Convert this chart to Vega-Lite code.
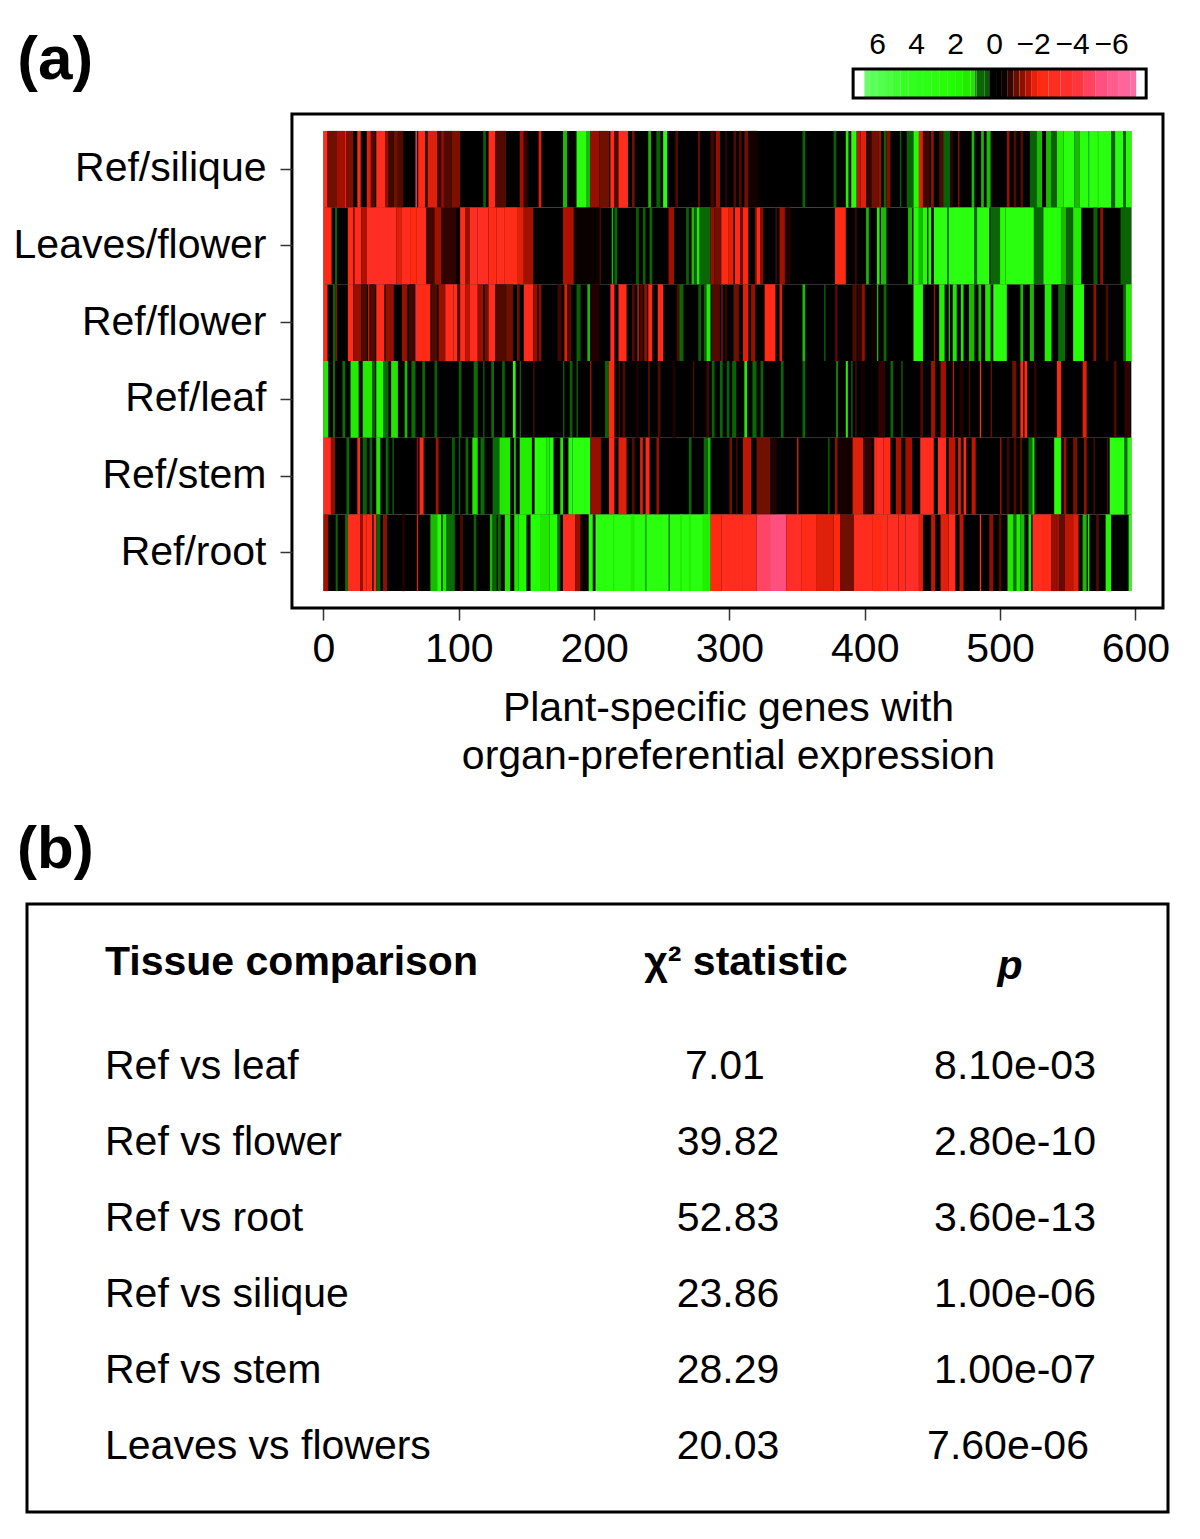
{"$schema":"https://vega.github.io/schema/vega-lite/v6.json","background":"white","padding":{"left":13,"top":28,"right":0,"bottom":0},"config":{"font":"Liberation Sans","view":{"stroke":null}},"spacing":42,"vconcat":[{"spacing":12,"vconcat":[{"width":1141,"height":29,"layer":[{"data":{"values":[{"v":7,"e":6.65,"s":7.23},{"v":6.6,"s":6.65,"e":6.4},{"v":6.2,"s":6.4,"e":6},{"v":5.8,"s":6,"e":5.6},{"v":5.4,"s":5.6,"e":5.2},{"v":5,"s":5.2,"e":4.8},{"v":4.6,"s":4.8,"e":4.4},{"v":4.2,"s":4.4,"e":4},{"v":3.8,"s":4,"e":3.6},{"v":3.4,"s":3.6,"e":3.2},{"v":3,"s":3.2,"e":2.8},{"v":2.6,"s":2.8,"e":2.4},{"v":2.2,"s":2.4,"e":2},{"v":1.8,"s":2,"e":1.6},{"v":1.4,"s":1.6,"e":1.2},{"v":1.1,"s":1.2,"e":1},{"v":0.95,"s":1,"e":0.9},{"v":0.7,"s":0.9,"e":0.5},{"v":0.35,"s":0.5,"e":0.25},{"v":0.1,"s":0.25,"e":-0.1},{"v":-0.25,"s":-0.1,"e":-0.4},{"v":-0.55,"s":-0.4,"e":-0.7},{"v":-0.85,"s":-0.7,"e":-1},{"v":-1.15,"s":-1,"e":-1.3},{"v":-1.45,"s":-1.3,"e":-1.6},{"v":-1.75,"s":-1.6,"e":-1.9},{"v":-2.05,"s":-1.9,"e":-2.2},{"v":-2.5,"s":-2.2,"e":-2.8},{"v":-3.1,"s":-2.8,"e":-3.4},{"v":-3.7,"s":-3.4,"e":-4},{"v":-4.3,"s":-4,"e":-4.6},{"v":-4.9,"s":-4.6,"e":-5.2},{"v":-5.5,"s":-5.2,"e":-5.8},{"v":-6.1,"s":-5.8,"e":-6.4},{"v":-6.7,"s":-6.4,"e":-7},{"v":-7.15,"s":-7,"e":-7.3},{"v":-7.6,"s":-7.3,"e":-7.8}]},"mark":{"type":"rect"},"encoding":{"x":{"field":"s","type":"quantitative","scale":{"domain":[49.6,-8.92],"nice":false,"zero":false},"axis":{"orient":"top","values":[6,4,2,0,-2,-4,-6],"domain":false,"ticks":false,"grid":false,"labelFontSize":30,"labelPadding":10,"labelColor":"#000","title":null,"format":"d","labelOverlap":false}},"x2":{"field":"e"},"color":{"field":"v","type":"quantitative","legend":null,"scale":{"domain":[-7.8,-7.31,-7.29,-5.5,-4,-2.2,-1.7,-1.2,-0.7,-0.4,0.15,0.3,0.9,1.05,2,4.5,6.6,6.65,7.3],"range":["#ffffff","#ffffff","#ff70a8","#ff5080","#ff3030","#ff2a10","#b01000","#701000","#200000","#000000","#000000","#0a5a05","#0a6e05","#22e000","#22ff00","#33ff22","#66ff66","#ffffff","#ffffff"],"interpolate":"rgb"}}}},{"data":{"values":[{"s":7.23,"e":-7.8}]},"mark":{"type":"rect","fill":null,"stroke":"#000","strokeWidth":3},"encoding":{"x":{"field":"s","type":"quantitative"},"x2":{"field":"e"}}},{"data":{"values":[{"label":"(a)","at":50.1}]},"mark":{"type":"text","font":"Liberation Sans","fontSize":62,"fontWeight":"bold","align":"left","baseline":"middle","dy":-24,"clip":false,"color":"#000"},"encoding":{"x":{"field":"at","type":"quantitative"},"text":{"field":"label"}}}]},{"width":1141,"height":494,"layer":[{"data":{"values":[
{"g":"Ref/silique","a":0,"b":597,"v":0},{"g":"Leaves/flower","a":0,"b":597,"v":0},{"g":"Ref/flower","a":0,"b":597,"v":0},{"g":"Ref/leaf","a":0,"b":597,"v":0},{"g":"Ref/stem","a":0,"b":597,"v":0},{"g":"Ref/root","a":0,"b":597,"v":0},
{"g":"Ref/silique","a":0,"b":3,"v":-3},{"g":"Ref/silique","a":3,"b":10,"v":-1.2},{"g":"Ref/silique","a":10,"b":16,"v":-1.6},{"g":"Ref/silique","a":16,"b":17,"v":-3},{"g":"Ref/silique","a":17,"b":22,"v":-1.3},{"g":"Ref/silique","a":25,"b":27.5,"v":-2.2},{"g":"Ref/silique","a":32,"b":35,"v":-2},{"g":"Ref/silique","a":35,"b":38,"v":-1},{"g":"Ref/silique","a":39,"b":45.5,"v":-3},{"g":"Ref/silique","a":45.5,"b":48,"v":-1.5},{"g":"Ref/silique","a":48,"b":52,"v":-0.9},{"g":"Ref/silique","a":52,"b":55,"v":-1.2},{"g":"Ref/silique","a":55,"b":59,"v":-1},{"g":"Ref/silique","a":68,"b":69,"v":-5},{"g":"Ref/silique","a":70,"b":75,"v":-2.5},{"g":"Ref/silique","a":75,"b":77,"v":-0.8},{"g":"Ref/silique","a":77,"b":84,"v":-2},{"g":"Ref/silique","a":84,"b":87,"v":-0.9},{"g":"Ref/silique","a":87,"b":89,"v":-1.5},{"g":"Ref/silique","a":89,"b":95,"v":-1},{"g":"Ref/silique","a":95,"b":101,"v":-1.3},{"g":"Ref/silique","a":118,"b":120,"v":0.5},{"g":"Ref/silique","a":122,"b":127,"v":-2.7},{"g":"Ref/silique","a":127,"b":135,"v":-1},{"g":"Ref/silique","a":145,"b":148,"v":-1.6},{"g":"Ref/silique","a":148,"b":151,"v":-0.8},{"g":"Ref/silique","a":159,"b":161,"v":-2},{"g":"Ref/silique","a":177,"b":180,"v":1},{"g":"Ref/silique","a":187,"b":194,"v":3},{"g":"Ref/silique","a":194,"b":197,"v":1},{"g":"Ref/silique","a":197,"b":204,"v":-1.5},{"g":"Ref/silique","a":204,"b":211,"v":-1.2},{"g":"Ref/silique","a":212,"b":215,"v":-2.5},{"g":"Ref/silique","a":215,"b":218,"v":-1},{"g":"Ref/silique","a":218,"b":225,"v":-3},{"g":"Ref/silique","a":228,"b":230,"v":-1.2},{"g":"Ref/silique","a":240,"b":242,"v":1},{"g":"Ref/silique","a":246,"b":249,"v":0.5},{"g":"Ref/silique","a":251,"b":254,"v":2.5},{"g":"Ref/silique","a":260,"b":262,"v":-1},{"g":"Ref/silique","a":277,"b":278,"v":-1.5},{"g":"Ref/silique","a":286,"b":289,"v":-0.9},{"g":"Ref/silique","a":290,"b":293,"v":-1.5},{"g":"Ref/silique","a":297,"b":298,"v":-0.9},{"g":"Ref/silique","a":303,"b":305,"v":-1},{"g":"Ref/silique","a":307,"b":309,"v":-1},{"g":"Ref/silique","a":311,"b":314,"v":-1.2},{"g":"Ref/silique","a":314,"b":321,"v":-0.6},{"g":"Ref/silique","a":354,"b":356,"v":0.6},{"g":"Ref/silique","a":377,"b":379,"v":0.5},{"g":"Ref/silique","a":386,"b":388,"v":1.5},{"g":"Ref/silique","a":390,"b":394,"v":2.5},{"g":"Ref/silique","a":394,"b":397,"v":-1.8},{"g":"Ref/silique","a":397,"b":401,"v":-2},{"g":"Ref/silique","a":401,"b":405,"v":-0.8},{"g":"Ref/silique","a":405,"b":410,"v":-1.2},{"g":"Ref/silique","a":410,"b":412,"v":-1.5},{"g":"Ref/silique","a":414,"b":416,"v":0.5},{"g":"Ref/silique","a":416,"b":419,"v":-1.3},{"g":"Ref/silique","a":426,"b":427,"v":0.5},{"g":"Ref/silique","a":431,"b":436,"v":0.5},{"g":"Ref/silique","a":436,"b":440,"v":2},{"g":"Ref/silique","a":440,"b":443,"v":-2},{"g":"Ref/silique","a":443,"b":448,"v":-0.9},{"g":"Ref/silique","a":449,"b":451,"v":-1.5},{"g":"Ref/silique","a":455,"b":458,"v":-1},{"g":"Ref/silique","a":458,"b":463,"v":0.5},{"g":"Ref/silique","a":463,"b":465,"v":-0.8},{"g":"Ref/silique","a":469,"b":470,"v":-1.5},{"g":"Ref/silique","a":479,"b":481,"v":1},{"g":"Ref/silique","a":486,"b":488,"v":1},{"g":"Ref/silique","a":490,"b":493,"v":1},{"g":"Ref/silique","a":505,"b":507,"v":-1.5},{"g":"Ref/silique","a":510,"b":512,"v":-1},{"g":"Ref/silique","a":515,"b":517,"v":-1},{"g":"Ref/silique","a":522,"b":527,"v":0.5},{"g":"Ref/silique","a":527,"b":531,"v":1},{"g":"Ref/silique","a":534,"b":538,"v":1},{"g":"Ref/silique","a":538,"b":542,"v":0.5},{"g":"Ref/silique","a":542,"b":547,"v":1.5},{"g":"Ref/silique","a":547,"b":555,"v":3},{"g":"Ref/silique","a":555,"b":559,"v":1},{"g":"Ref/silique","a":559,"b":582,"v":3},{"g":"Ref/silique","a":565,"b":566,"v":1},{"g":"Ref/silique","a":572,"b":573,"v":1.2},{"g":"Ref/silique","a":582,"b":585,"v":0.5},{"g":"Ref/silique","a":585,"b":591,"v":3},{"g":"Ref/silique","a":591,"b":593,"v":0.5},{"g":"Ref/silique","a":593,"b":597,"v":2},
{"g":"Leaves/flower","a":0,"b":6,"v":-2.3},{"g":"Leaves/flower","a":8.5,"b":10,"v":0.5},{"g":"Leaves/flower","a":18,"b":22,"v":-2.5},{"g":"Leaves/flower","a":22,"b":23,"v":-1.5},{"g":"Leaves/flower","a":23,"b":28,"v":-3},{"g":"Leaves/flower","a":28,"b":32,"v":-1.7},{"g":"Leaves/flower","a":32,"b":54,"v":-3.3},{"g":"Leaves/flower","a":54,"b":58,"v":-2},{"g":"Leaves/flower","a":58,"b":64,"v":-3},{"g":"Leaves/flower","a":64,"b":69,"v":-2.2},{"g":"Leaves/flower","a":69,"b":76,"v":-3},{"g":"Leaves/flower","a":77,"b":82,"v":-0.9},{"g":"Leaves/flower","a":82,"b":87,"v":-1.6},{"g":"Leaves/flower","a":87,"b":98,"v":-0.8},{"g":"Leaves/flower","a":98,"b":101,"v":-0.5},{"g":"Leaves/flower","a":101,"b":105,"v":-3},{"g":"Leaves/flower","a":105,"b":108,"v":-1.5},{"g":"Leaves/flower","a":108,"b":114,"v":-3.2},{"g":"Leaves/flower","a":114,"b":122,"v":-3.3},{"g":"Leaves/flower","a":122,"b":128,"v":-2.5},{"g":"Leaves/flower","a":128,"b":134,"v":-3},{"g":"Leaves/flower","a":134,"b":143,"v":-2.7},{"g":"Leaves/flower","a":143,"b":148,"v":-2},{"g":"Leaves/flower","a":148,"b":155,"v":-1.6},{"g":"Leaves/flower","a":177,"b":185,"v":-1.7},{"g":"Leaves/flower","a":185,"b":204,"v":-0.5},{"g":"Leaves/flower","a":204,"b":205,"v":-1},{"g":"Leaves/flower","a":213,"b":214,"v":1},{"g":"Leaves/flower","a":215,"b":217,"v":0.7},{"g":"Leaves/flower","a":231,"b":233,"v":0.5},{"g":"Leaves/flower","a":236,"b":238,"v":0.5},{"g":"Leaves/flower","a":241,"b":243,"v":0.7},{"g":"Leaves/flower","a":255,"b":259,"v":-1.6},{"g":"Leaves/flower","a":268,"b":270,"v":0.5},{"g":"Leaves/flower","a":272,"b":274,"v":1},{"g":"Leaves/flower","a":274,"b":276,"v":0.7},{"g":"Leaves/flower","a":276,"b":278,"v":1.5},{"g":"Leaves/flower","a":278,"b":286,"v":0.7},{"g":"Leaves/flower","a":286,"b":289,"v":-1.5},{"g":"Leaves/flower","a":289,"b":294,"v":-1.2},{"g":"Leaves/flower","a":294,"b":299,"v":-2.6},{"g":"Leaves/flower","a":299,"b":303,"v":-2},{"g":"Leaves/flower","a":304,"b":308,"v":-2.2},{"g":"Leaves/flower","a":308,"b":310,"v":-1.2},{"g":"Leaves/flower","a":310,"b":314,"v":-2.2},{"g":"Leaves/flower","a":319,"b":320,"v":-1.5},{"g":"Leaves/flower","a":320,"b":323,"v":-2.5},{"g":"Leaves/flower","a":323,"b":325,"v":-1.3},{"g":"Leaves/flower","a":334,"b":335,"v":-1},{"g":"Leaves/flower","a":337,"b":341,"v":-1.6},{"g":"Leaves/flower","a":341,"b":345,"v":-0.7},{"g":"Leaves/flower","a":378,"b":386,"v":-2.5},{"g":"Leaves/flower","a":393,"b":394,"v":-1},{"g":"Leaves/flower","a":401,"b":403,"v":1},{"g":"Leaves/flower","a":409,"b":411,"v":1.5},{"g":"Leaves/flower","a":412,"b":416,"v":1},{"g":"Leaves/flower","a":432,"b":435,"v":1},{"g":"Leaves/flower","a":436,"b":440,"v":2},{"g":"Leaves/flower","a":440,"b":443,"v":1},{"g":"Leaves/flower","a":443,"b":446,"v":2},{"g":"Leaves/flower","a":447,"b":449,"v":2},{"g":"Leaves/flower","a":451,"b":461,"v":3},{"g":"Leaves/flower","a":461,"b":462,"v":0.9},{"g":"Leaves/flower","a":462,"b":481,"v":3},{"g":"Leaves/flower","a":481,"b":483,"v":0.9},{"g":"Leaves/flower","a":483,"b":492,"v":3},{"g":"Leaves/flower","a":493,"b":500,"v":0.7},{"g":"Leaves/flower","a":500,"b":504,"v":2.5},{"g":"Leaves/flower","a":504,"b":525,"v":3},{"g":"Leaves/flower","a":525,"b":532,"v":0.6},{"g":"Leaves/flower","a":532,"b":545,"v":2.5},{"g":"Leaves/flower","a":545,"b":549,"v":1},{"g":"Leaves/flower","a":549,"b":554,"v":0.6},{"g":"Leaves/flower","a":554,"b":560,"v":1.5},{"g":"Leaves/flower","a":569,"b":572,"v":0.5},{"g":"Leaves/flower","a":574,"b":576,"v":-1.5},{"g":"Leaves/flower","a":589,"b":597,"v":0.6},
{"g":"Ref/flower","a":0,"b":3,"v":-2.5},{"g":"Ref/flower","a":7,"b":9,"v":0.5},{"g":"Ref/flower","a":9,"b":10,"v":-1.5},{"g":"Ref/flower","a":18,"b":22,"v":-2.8},{"g":"Ref/flower","a":22,"b":28,"v":-1.5},{"g":"Ref/flower","a":28,"b":32,"v":-1},{"g":"Ref/flower","a":33,"b":34,"v":-2},{"g":"Ref/flower","a":34,"b":38,"v":-1},{"g":"Ref/flower","a":39,"b":45,"v":-2.7},{"g":"Ref/flower","a":46,"b":52,"v":-1.5},{"g":"Ref/flower","a":58,"b":62,"v":-1.5},{"g":"Ref/flower","a":63,"b":68,"v":-0.9},{"g":"Ref/flower","a":68,"b":69,"v":-5},{"g":"Ref/flower","a":69,"b":79,"v":-2.5},{"g":"Ref/flower","a":80,"b":84,"v":-1},{"g":"Ref/flower","a":85,"b":90,"v":-1.5},{"g":"Ref/flower","a":90,"b":96,"v":-2.8},{"g":"Ref/flower","a":96,"b":99,"v":-3},{"g":"Ref/flower","a":99,"b":101,"v":-1},{"g":"Ref/flower","a":101,"b":105,"v":-2.8},{"g":"Ref/flower","a":105,"b":108,"v":-1.8},{"g":"Ref/flower","a":108,"b":114,"v":-3},{"g":"Ref/flower","a":114,"b":118,"v":-1.5},{"g":"Ref/flower","a":119,"b":122,"v":-1.2},{"g":"Ref/flower","a":122,"b":127,"v":-3},{"g":"Ref/flower","a":127,"b":135,"v":-1},{"g":"Ref/flower","a":135,"b":140,"v":-1.2},{"g":"Ref/flower","a":143,"b":145,"v":-1.2},{"g":"Ref/flower","a":148,"b":155,"v":-2.8},{"g":"Ref/flower","a":155,"b":158,"v":-1.5},{"g":"Ref/flower","a":159,"b":161,"v":-1.4},{"g":"Ref/flower","a":173,"b":176,"v":-0.9},{"g":"Ref/flower","a":178,"b":180,"v":-2},{"g":"Ref/flower","a":180,"b":183,"v":-1},{"g":"Ref/flower","a":187,"b":190,"v":0.5},{"g":"Ref/flower","a":195,"b":197,"v":1},{"g":"Ref/flower","a":197,"b":204,"v":-0.7},{"g":"Ref/flower","a":212,"b":215,"v":-3.5},{"g":"Ref/flower","a":218,"b":224,"v":-2.8},{"g":"Ref/flower","a":228,"b":230,"v":-1},{"g":"Ref/flower","a":232,"b":233,"v":-2},{"g":"Ref/flower","a":234,"b":236,"v":-1},{"g":"Ref/flower","a":237,"b":239,"v":-1.5},{"g":"Ref/flower","a":240,"b":243,"v":-2.5},{"g":"Ref/flower","a":247,"b":251,"v":-2.5},{"g":"Ref/flower","a":261,"b":263,"v":-1},{"g":"Ref/flower","a":263,"b":266,"v":0.7},{"g":"Ref/flower","a":277,"b":279,"v":0.5},{"g":"Ref/flower","a":281,"b":283,"v":0.6},{"g":"Ref/flower","a":283,"b":286,"v":1.5},{"g":"Ref/flower","a":287,"b":293,"v":-1},{"g":"Ref/flower","a":294,"b":295,"v":-1.5},{"g":"Ref/flower","a":297,"b":298,"v":-1},{"g":"Ref/flower","a":303,"b":307,"v":-1.2},{"g":"Ref/flower","a":310,"b":314,"v":-2},{"g":"Ref/flower","a":316,"b":319,"v":-1.5},{"g":"Ref/flower","a":326,"b":334,"v":-2.5},{"g":"Ref/flower","a":337,"b":339,"v":-2},{"g":"Ref/flower","a":354,"b":356,"v":1},{"g":"Ref/flower","a":370,"b":371,"v":0.7},{"g":"Ref/flower","a":378,"b":380,"v":-1},{"g":"Ref/flower","a":391,"b":394,"v":-1},{"g":"Ref/flower","a":395,"b":398,"v":-0.8},{"g":"Ref/flower","a":398,"b":400,"v":-1.5},{"g":"Ref/flower","a":405,"b":408,"v":-0.6},{"g":"Ref/flower","a":409,"b":410,"v":1},{"g":"Ref/flower","a":414,"b":416,"v":0.8},{"g":"Ref/flower","a":436,"b":443,"v":3},{"g":"Ref/flower","a":451,"b":452,"v":-1.5},{"g":"Ref/flower","a":455,"b":459,"v":1.5},{"g":"Ref/flower","a":462,"b":463,"v":1},{"g":"Ref/flower","a":465,"b":468,"v":1.2},{"g":"Ref/flower","a":471,"b":473,"v":1.2},{"g":"Ref/flower","a":477,"b":481,"v":1},{"g":"Ref/flower","a":484,"b":486,"v":1},{"g":"Ref/flower","a":489,"b":493,"v":1.2},{"g":"Ref/flower","a":495,"b":505,"v":3},{"g":"Ref/flower","a":515,"b":517,"v":1},{"g":"Ref/flower","a":522,"b":525,"v":1},{"g":"Ref/flower","a":533,"b":538,"v":1.5},{"g":"Ref/flower","a":543,"b":548,"v":0.8},{"g":"Ref/flower","a":554,"b":562,"v":2.5},{"g":"Ref/flower","a":569,"b":571,"v":-1.5},{"g":"Ref/flower","a":578,"b":580,"v":-1},{"g":"Ref/flower","a":591,"b":593,"v":0.6},{"g":"Ref/flower","a":593,"b":597,"v":1.5},
{"g":"Ref/leaf","a":0,"b":3.5,"v":1.3},{"g":"Ref/leaf","a":7,"b":8.5,"v":0.8},{"g":"Ref/leaf","a":14,"b":16,"v":0.9},{"g":"Ref/leaf","a":20,"b":26,"v":1.4},{"g":"Ref/leaf","a":29,"b":36,"v":1.4},{"g":"Ref/leaf","a":36,"b":38,"v":0.6},{"g":"Ref/leaf","a":39,"b":44,"v":2.2},{"g":"Ref/leaf","a":44,"b":48,"v":0.8},{"g":"Ref/leaf","a":50,"b":55,"v":1.2},{"g":"Ref/leaf","a":60,"b":62,"v":1},{"g":"Ref/leaf","a":65,"b":68,"v":0.9},{"g":"Ref/leaf","a":73,"b":75,"v":0.7},{"g":"Ref/leaf","a":82,"b":84,"v":0.5},{"g":"Ref/leaf","a":100,"b":102,"v":0.5},{"g":"Ref/leaf","a":111,"b":114,"v":0.9},{"g":"Ref/leaf","a":118,"b":119,"v":0.5},{"g":"Ref/leaf","a":124,"b":126,"v":0.9},{"g":"Ref/leaf","a":132,"b":134,"v":0.5},{"g":"Ref/leaf","a":140,"b":142,"v":2},{"g":"Ref/leaf","a":145,"b":146,"v":0.5},{"g":"Ref/leaf","a":155,"b":156,"v":-1},{"g":"Ref/leaf","a":177,"b":178,"v":0.5},{"g":"Ref/leaf","a":182,"b":184,"v":0.5},{"g":"Ref/leaf","a":187,"b":188,"v":0.6},{"g":"Ref/leaf","a":197,"b":198,"v":-1.6},{"g":"Ref/leaf","a":208,"b":211,"v":0.5},{"g":"Ref/leaf","a":211,"b":215,"v":-2.2},{"g":"Ref/leaf","a":218,"b":219,"v":-1},{"g":"Ref/leaf","a":221,"b":223,"v":-1},{"g":"Ref/leaf","a":231,"b":233,"v":-0.7},{"g":"Ref/leaf","a":240,"b":241,"v":-1.2},{"g":"Ref/leaf","a":247,"b":249,"v":-1},{"g":"Ref/leaf","a":258,"b":260,"v":-0.7},{"g":"Ref/leaf","a":273,"b":274,"v":-1},{"g":"Ref/leaf","a":283,"b":285,"v":-0.9},{"g":"Ref/leaf","a":287,"b":289,"v":0.6},{"g":"Ref/leaf","a":293,"b":295,"v":0.7},{"g":"Ref/leaf","a":298,"b":300,"v":0.5},{"g":"Ref/leaf","a":302,"b":305,"v":0.6},{"g":"Ref/leaf","a":311,"b":313,"v":1.3},{"g":"Ref/leaf","a":317,"b":320,"v":0.8},{"g":"Ref/leaf","a":323,"b":325,"v":0.6},{"g":"Ref/leaf","a":338,"b":340,"v":0.7},{"g":"Ref/leaf","a":354,"b":356,"v":0.7},{"g":"Ref/leaf","a":379,"b":380,"v":1},{"g":"Ref/leaf","a":386,"b":387.5,"v":1.6},{"g":"Ref/leaf","a":390,"b":391,"v":0.8},{"g":"Ref/leaf","a":393,"b":394,"v":-1},{"g":"Ref/leaf","a":397,"b":400,"v":-0.6},{"g":"Ref/leaf","a":410,"b":415,"v":-0.8},{"g":"Ref/leaf","a":419,"b":421,"v":0.6},{"g":"Ref/leaf","a":427,"b":428,"v":0.6},{"g":"Ref/leaf","a":441,"b":443,"v":-1},{"g":"Ref/leaf","a":449,"b":452,"v":-1.6},{"g":"Ref/leaf","a":456,"b":460,"v":-1.6},{"g":"Ref/leaf","a":465,"b":466,"v":-1.8},{"g":"Ref/leaf","a":470,"b":473,"v":-0.7},{"g":"Ref/leaf","a":477,"b":478,"v":-1},{"g":"Ref/leaf","a":485,"b":486,"v":-2.5},{"g":"Ref/leaf","a":493,"b":494,"v":-1.2},{"g":"Ref/leaf","a":509,"b":512,"v":-1.2},{"g":"Ref/leaf","a":515,"b":517,"v":-2.2},{"g":"Ref/leaf","a":518,"b":520,"v":-2.5},{"g":"Ref/leaf","a":525,"b":527,"v":-0.8},{"g":"Ref/leaf","a":542,"b":545,"v":-2.2},{"g":"Ref/leaf","a":561,"b":564,"v":-2},{"g":"Ref/leaf","a":584,"b":586,"v":-1},{"g":"Ref/leaf","a":592,"b":596,"v":-0.8},
{"g":"Ref/stem","a":0,"b":5.5,"v":-3},{"g":"Ref/stem","a":5.5,"b":8.5,"v":-1.4},{"g":"Ref/stem","a":17,"b":19,"v":0.8},{"g":"Ref/stem","a":25,"b":27,"v":-2.5},{"g":"Ref/stem","a":29,"b":32,"v":0.5},{"g":"Ref/stem","a":34,"b":36,"v":0.5},{"g":"Ref/stem","a":39,"b":42,"v":1.2},{"g":"Ref/stem","a":46,"b":48,"v":0.7},{"g":"Ref/stem","a":51,"b":52,"v":0.7},{"g":"Ref/stem","a":69,"b":70,"v":-1.5},{"g":"Ref/stem","a":71,"b":74,"v":-2.6},{"g":"Ref/stem","a":83,"b":85,"v":-1.7},{"g":"Ref/stem","a":95,"b":97,"v":0.5},{"g":"Ref/stem","a":100,"b":101,"v":0.5},{"g":"Ref/stem","a":105,"b":107,"v":0.7},{"g":"Ref/stem","a":110,"b":114,"v":1.2},{"g":"Ref/stem","a":116,"b":119,"v":0.8},{"g":"Ref/stem","a":125,"b":130,"v":0.8},{"g":"Ref/stem","a":130,"b":138,"v":1.3},{"g":"Ref/stem","a":141,"b":142,"v":2},{"g":"Ref/stem","a":145,"b":154,"v":1.5},{"g":"Ref/stem","a":156,"b":165,"v":2.5},{"g":"Ref/stem","a":165,"b":167,"v":1.5},{"g":"Ref/stem","a":167,"b":170,"v":2.5},{"g":"Ref/stem","a":175,"b":177,"v":1.2},{"g":"Ref/stem","a":181,"b":184,"v":2.5},{"g":"Ref/stem","a":184,"b":197,"v":3},{"g":"Ref/stem","a":197,"b":205,"v":-1.5},{"g":"Ref/stem","a":211,"b":215,"v":-3},{"g":"Ref/stem","a":218,"b":224,"v":-2},{"g":"Ref/stem","a":228,"b":230,"v":-1},{"g":"Ref/stem","a":234,"b":236,"v":-2},{"g":"Ref/stem","a":238,"b":241,"v":-2.5},{"g":"Ref/stem","a":246,"b":248,"v":-1.5},{"g":"Ref/stem","a":270,"b":272,"v":0.6},{"g":"Ref/stem","a":281,"b":284,"v":0.7},{"g":"Ref/stem","a":284,"b":286,"v":1},{"g":"Ref/stem","a":300,"b":302,"v":-1.2},{"g":"Ref/stem","a":305,"b":306,"v":-1},{"g":"Ref/stem","a":310,"b":316,"v":-1.8},{"g":"Ref/stem","a":320,"b":330,"v":-1.2},{"g":"Ref/stem","a":330,"b":335,"v":-0.7},{"g":"Ref/stem","a":350,"b":351,"v":-2},{"g":"Ref/stem","a":373,"b":374,"v":0.8},{"g":"Ref/stem","a":378,"b":380,"v":-1.5},{"g":"Ref/stem","a":380,"b":390,"v":-0.6},{"g":"Ref/stem","a":391,"b":399,"v":-2},{"g":"Ref/stem","a":399,"b":405,"v":-0.8},{"g":"Ref/stem","a":407,"b":409,"v":-3},{"g":"Ref/stem","a":409,"b":414,"v":-3.4},{"g":"Ref/stem","a":414,"b":419,"v":-2.6},{"g":"Ref/stem","a":423,"b":427,"v":-1.7},{"g":"Ref/stem","a":430,"b":435,"v":-1.6},{"g":"Ref/stem","a":441,"b":451,"v":-3},{"g":"Ref/stem","a":454,"b":460,"v":-3.3},{"g":"Ref/stem","a":462,"b":467,"v":-1.8},{"g":"Ref/stem","a":469,"b":471,"v":-2},{"g":"Ref/stem","a":473,"b":475,"v":-2.2},{"g":"Ref/stem","a":479,"b":482,"v":-1.8},{"g":"Ref/stem","a":500,"b":501,"v":-1.7},{"g":"Ref/stem","a":505,"b":507,"v":-0.9},{"g":"Ref/stem","a":510,"b":512,"v":-1},{"g":"Ref/stem","a":515,"b":516,"v":-1.4},{"g":"Ref/stem","a":521,"b":526,"v":0.8},{"g":"Ref/stem","a":524,"b":525,"v":1.5},{"g":"Ref/stem","a":540,"b":545,"v":2.5},{"g":"Ref/stem","a":547,"b":549,"v":-1.6},{"g":"Ref/stem","a":554,"b":557,"v":-1.3},{"g":"Ref/stem","a":562,"b":564,"v":-1.5},{"g":"Ref/stem","a":569,"b":570,"v":-1},{"g":"Ref/stem","a":579,"b":580,"v":-1},{"g":"Ref/stem","a":581,"b":592,"v":3},{"g":"Ref/stem","a":592,"b":594,"v":0.7},{"g":"Ref/stem","a":594,"b":597,"v":2.5},
{"g":"Ref/root","a":0,"b":3.5,"v":-1.6},{"g":"Ref/root","a":9,"b":10.5,"v":0.7},{"g":"Ref/root","a":16,"b":18,"v":0.9},{"g":"Ref/root","a":18,"b":27,"v":-3},{"g":"Ref/root","a":27,"b":29,"v":-1.5},{"g":"Ref/root","a":29,"b":32,"v":-2.5},{"g":"Ref/root","a":32,"b":36,"v":-2.5},{"g":"Ref/root","a":37,"b":39,"v":-2.5},{"g":"Ref/root","a":39,"b":42,"v":0.5},{"g":"Ref/root","a":44,"b":47,"v":-1.4},{"g":"Ref/root","a":58,"b":60,"v":-0.7},{"g":"Ref/root","a":69,"b":70,"v":-2},{"g":"Ref/root","a":79,"b":84,"v":1},{"g":"Ref/root","a":84,"b":87,"v":2},{"g":"Ref/root","a":88,"b":91,"v":1.2},{"g":"Ref/root","a":91,"b":97,"v":0.9},{"g":"Ref/root","a":101,"b":103,"v":-1},{"g":"Ref/root","a":111,"b":113,"v":0.5},{"g":"Ref/root","a":123,"b":125,"v":1},{"g":"Ref/root","a":125,"b":128,"v":0.5},{"g":"Ref/root","a":129,"b":131,"v":0.8},{"g":"Ref/root","a":134,"b":138,"v":1.2},{"g":"Ref/root","a":141,"b":144,"v":1.2},{"g":"Ref/root","a":144,"b":150,"v":1.8},{"g":"Ref/root","a":153,"b":160,"v":2.3},{"g":"Ref/root","a":160,"b":167,"v":1.2},{"g":"Ref/root","a":167,"b":173,"v":2},{"g":"Ref/root","a":173,"b":175,"v":0.7},{"g":"Ref/root","a":177,"b":186,"v":-3},{"g":"Ref/root","a":186,"b":190,"v":-1.5},{"g":"Ref/root","a":190,"b":196,"v":-0.5},{"g":"Ref/root","a":196,"b":199,"v":2},{"g":"Ref/root","a":201,"b":286,"v":3},{"g":"Ref/root","a":214,"b":215,"v":1.5},{"g":"Ref/root","a":227,"b":230,"v":1.5},{"g":"Ref/root","a":237.5,"b":239,"v":1},{"g":"Ref/root","a":255,"b":256,"v":0.9},{"g":"Ref/root","a":263.5,"b":265,"v":1.5},{"g":"Ref/root","a":270,"b":271.5,"v":1.5},{"g":"Ref/root","a":280,"b":286,"v":1.5},{"g":"Ref/root","a":286,"b":294,"v":-2.2},{"g":"Ref/root","a":294,"b":310,"v":-3},{"g":"Ref/root","a":310,"b":320,"v":-3},{"g":"Ref/root","a":320,"b":330,"v":-5},{"g":"Ref/root","a":330,"b":342,"v":-5.5},{"g":"Ref/root","a":342,"b":353,"v":-3.5},{"g":"Ref/root","a":353,"b":364,"v":-2.6},{"g":"Ref/root","a":364,"b":377,"v":-2},{"g":"Ref/root","a":377,"b":382,"v":-2.2},{"g":"Ref/root","a":382,"b":392,"v":-1.2},{"g":"Ref/root","a":392,"b":406,"v":-3},{"g":"Ref/root","a":406,"b":412,"v":-2.5},{"g":"Ref/root","a":412,"b":417,"v":-3},{"g":"Ref/root","a":417,"b":425,"v":-3.2},{"g":"Ref/root","a":425,"b":430,"v":-3},{"g":"Ref/root","a":430,"b":440,"v":-3.5},{"g":"Ref/root","a":440,"b":443,"v":-2},{"g":"Ref/root","a":449,"b":452,"v":-1.8},{"g":"Ref/root","a":456,"b":462,"v":-2},{"g":"Ref/root","a":462,"b":467,"v":-3},{"g":"Ref/root","a":470,"b":473,"v":-1.8},{"g":"Ref/root","a":485,"b":486,"v":-3.5},{"g":"Ref/root","a":492,"b":495,"v":-1.4},{"g":"Ref/root","a":499,"b":501,"v":-1},{"g":"Ref/root","a":505.5,"b":510,"v":1.3},{"g":"Ref/root","a":510,"b":512,"v":0.9},{"g":"Ref/root","a":512,"b":515,"v":1.5},{"g":"Ref/root","a":515,"b":518,"v":1},{"g":"Ref/root","a":521,"b":523,"v":1.3},{"g":"Ref/root","a":524,"b":531,"v":-3},{"g":"Ref/root","a":531,"b":538,"v":-2.4},{"g":"Ref/root","a":538,"b":542,"v":-1.5},{"g":"Ref/root","a":542,"b":544,"v":-1.6},{"g":"Ref/root","a":544,"b":548,"v":-1.1},{"g":"Ref/root","a":548,"b":554,"v":-1.8},{"g":"Ref/root","a":554,"b":558,"v":-2},{"g":"Ref/root","a":561,"b":564,"v":1},{"g":"Ref/root","a":565,"b":566,"v":1.3},{"g":"Ref/root","a":571,"b":573,"v":-1},{"g":"Ref/root","a":578,"b":582,"v":1.8},{"g":"Ref/root","a":595,"b":597,"v":2.5}
]},"mark":{"type":"rect"},"encoding":{"x":{"field":"a","type":"quantitative","scale":{"domain":[-219.1,624.1],"nice":false,"zero":false},"axis":{"values":[0,100,200,300,400,500,600],"grid":false,"domain":false,"tickSize":12,"tickColor":"#333","tickWidth":1.5,"labelFontSize":41,"labelColor":"#000","labelPadding":9,"labelFlush":false,"titleFontSize":41,"titleFontWeight":"normal","titleColor":"#000","titlePadding":19,"titleLineHeight":48,"titleX":701,"title":["Plant-specific genes with","organ-preferential expression"]}},"x2":{"field":"b"},"y":{"field":"g","type":"nominal","scale":{"domain":["Ref/silique","Leaves/flower","Ref/flower","Ref/leaf","Ref/stem","Ref/root"],"paddingInner":0,"paddingOuter":0.22},"axis":{"title":null,"grid":false,"domain":false,"offset":-265,"tickSize":12,"tickColor":"#333","tickWidth":1.5,"labelFontSize":41,"labelColor":"#000","labelPadding":14,"labelLimit":400}},"color":{"field":"v","type":"quantitative","legend":null,"scale":{"domain":[-7.8,-7.31,-7.29,-5.5,-4,-2.2,-1.7,-1.2,-0.7,-0.4,0.15,0.3,0.9,1.05,2,4.5,6.6,6.65,7.3],"range":["#ffffff","#ffffff","#ff70a8","#ff5080","#ff3030","#ff2a10","#b01000","#701000","#200000","#000000","#000000","#0a5a05","#0a6e05","#22e000","#22ff00","#33ff22","#66ff66","#ffffff","#ffffff"],"interpolate":"rgb"}}}},{"data":{"values":[{"a":-23.3,"b":620.4}]},"mark":{"type":"rect","fill":null,"stroke":"#000","strokeWidth":3},"encoding":{"x":{"field":"a","type":"quantitative"},"x2":{"field":"b"}}}]}]},{"width":1141,"height":608,"view":{"stroke":"#000","strokeWidth":3},"title":{"text":"(b)","anchor":"start","dx":-10,"fontSize":60,"fontWeight":"bold","color":"#000","font":"Liberation Sans","offset":23},"data":{"values":[{"comparison":"Tissue comparison","chi":"χ² statistic","p":"p","part":"head"},{"comparison":"Ref vs leaf","chi":"7.01","p":"8.10e-03","part":"shift"},{"comparison":"Ref vs flower","chi":"39.82","p":"2.80e-10","part":"body"},{"comparison":"Ref vs root","chi":"52.83","p":"3.60e-13","part":"body"},{"comparison":"Ref vs silique","chi":"23.86","p":"1.00e-06","part":"body"},{"comparison":"Ref vs stem","chi":"28.29","p":"1.00e-07","part":"body"},{"comparison":"Leaves vs flowers","chi":"20.03","p":"7.60e-06","part":"last"}]},"encoding":{"y":{"field":"comparison","type":"nominal","sort":null,"scale":{"type":"point","padding":0,"domain":["Tissue comparison","Ref vs leaf","Ref vs flower","Ref vs root","Ref vs silique","Ref vs stem","Leaves vs flowers"],"range":[87,543]},"axis":null},"x":{"datum":"a","type":"nominal","scale":{"type":"point","domain":["a","b","c"],"padding":0},"axis":null}},"layer":[{"transform":[{"filter":"datum.part!='head'"}],"mark":{"type":"text","align":"left","baseline":"middle","fontSize":41,"dx":78,"color":"#000"},"encoding":{"x":{"datum":"a","type":"nominal"},"text":{"field":"comparison"}}},{"transform":[{"filter":"datum.part=='body'||datum.part=='last'"}],"mark":{"type":"text","align":"center","baseline":"middle","fontSize":41,"dx":130.5,"color":"#000"},"encoding":{"x":{"datum":"b","type":"nominal"},"text":{"field":"chi"}}},{"transform":[{"filter":"datum.part=='shift'"}],"mark":{"type":"text","align":"center","baseline":"middle","fontSize":41,"dx":127.5,"color":"#000"},"encoding":{"x":{"datum":"b","type":"nominal"},"text":{"field":"chi"}}},{"transform":[{"filter":"datum.part=='body'||datum.part=='shift'"}],"mark":{"type":"text","align":"center","baseline":"middle","fontSize":41,"dx":-153,"color":"#000"},"encoding":{"x":{"datum":"c","type":"nominal"},"text":{"field":"p"}}},{"transform":[{"filter":"datum.part=='last'"}],"mark":{"type":"text","align":"center","baseline":"middle","fontSize":41,"dx":-160,"color":"#000"},"encoding":{"x":{"datum":"c","type":"nominal"},"text":{"field":"p"}}},{"transform":[{"filter":"datum.part=='head'"}],"mark":{"type":"text","align":"left","baseline":"middle","fontSize":41,"fontWeight":"bold","dx":78,"dy":-28,"color":"#000"},"encoding":{"x":{"datum":"a","type":"nominal"},"text":{"field":"comparison"}}},{"transform":[{"filter":"datum.part=='head'"}],"mark":{"type":"text","align":"center","baseline":"middle","fontSize":41,"fontWeight":"bold","dx":148.5,"dy":-28,"color":"#000"},"encoding":{"x":{"datum":"b","type":"nominal"},"text":{"field":"chi"}}},{"transform":[{"filter":"datum.part=='head'"}],"mark":{"type":"text","align":"center","baseline":"middle","fontSize":41,"fontWeight":"bold","fontStyle":"italic","dx":-158,"dy":-24,"color":"#000"},"encoding":{"x":{"datum":"c","type":"nominal"},"text":{"field":"p"}}}]}]}
